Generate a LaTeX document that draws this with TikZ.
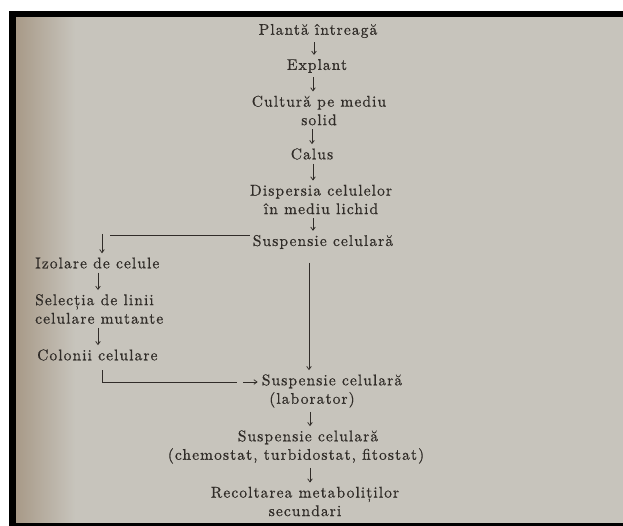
\documentclass[tikz,border=0pt]{standalone}
\usepackage{fontspec}
\newfontfamily\lsf{lmroman10-regular.otf}[LetterSpace=7,FakeBold=0.6]
\usetikzlibrary{arrows.meta}
\definecolor{ink}{RGB}{48,44,40}
\definecolor{paperL}{RGB}{168,154,136}
\definecolor{paperM}{RGB}{199,196,188}
\tikzset{
  lbl/.style={font=\lsf\fontsize{15.5}{18.5}\selectfont, text=ink, inner sep=3pt, align=center},
  lbll/.style={lbl, align=left, anchor=west},
  conn/.style={draw=ink, line width=0.75pt},
  arr/.style={conn, -{Straight Barb[length=3.2pt,width=4.6pt]}, shorten <=1pt, shorten >=1pt},
}
\begin{document}
\begin{tikzpicture}[x=1pt,y=-1pt]
\useasboundingbox (0,0) rectangle (623,526);
% page photo background
\fill[white] (0,0) rectangle (623,526);
\fill[paperM] (16,17) rectangle (623,523);
\shade[left color=paperL, right color=paperM] (16,17) rectangle (75,523);
\fill[black] (9,11) rectangle (623,17);
\fill[black] (9,11) rectangle (16,526);
\fill[black] (9,523) rectangle (623,526);

% main column
\node[lbl] (p1) at (318,31) {Plantă întreagă};
\node[lbl] (p2) at (317,66) {Explant};
\node[lbl] (p3) at (319,110.5) {Cultură pe mediu\\solid};
\node[lbl] (p4) at (312,154) {Calus};
\node[lbl] (p5) at (321,199.5) {Dispersia celulelor\\în mediu lichid};
\node[lbl] (p6) at (323,242) {Suspensie celulară};
\node[lbl] (p7) at (332,391) {Suspensie celulară\\(laborator)\hspace*{40pt}};
\node[lbl] (p8) at (296,447) {\hspace*{24pt}Suspensie celulară\\(chemostat, turbidostat, fitostat)};
\node[lbl] (p9) at (305,501.5) {Recoltarea metaboliților\\secundari};

% left branch
\node[lbll] (l1) at (32,263) {Izolare de celule};
\node[lbll] (l2) at (32,309) {Selecția de linii\\celulare mutante};
\node[lbll] (l3) at (34,355) {Colonii celulare};

% x positions of the arrows
\coordinate (a1) at (314,0);
\coordinate (a2) at (313,0);
\coordinate (a3) at (312,0);
\coordinate (a4) at (313,0);
\coordinate (a5) at (313,0);
\coordinate (a7) at (310,0);
\coordinate (a8) at (310,0);
\coordinate (la) at (98,0);

\draw[arr] (p1.south -| a1) -- (p2.north -| a1);
\draw[arr] (p2.south -| a2) -- (p3.north -| a2);
\draw[arr] (p3.south -| a3) -- (p4.north -| a3);
\draw[arr] (p4.south -| a4) -- (p5.north -| a4);
\draw[arr] (p5.south -| a5) -- (p6.north -| a5);
\draw[arr] (p7.south -| a7) -- (p8.north -| a7);
\draw[arr] (p8.south -| a8) -- (p9.north -| a8);

% branch to the left
\coordinate (b1) at (110,235);
\coordinate (b2) at (102,233);
\draw[conn] (b1 -| p6.west) -- (b1);
\draw[arr] (b2) -- (b2 |- l1.north);
\draw[arr] (l1.south -| la) -- (l2.north -| la);
\draw[arr] (l2.south -| la) -- (l3.north -| la);

% long line down to the laboratory suspension
\coordinate (v1) at (309,262);
\draw[arr] (v1) -- (v1 |- p7.north);

% return from the colonies
\coordinate (c1) at (102,370);
\coordinate (c2) at (102,382);
\coordinate (c3) at (237,382);
\coordinate (c4) at (242,382);
\draw[conn] (c1) -- (c2) -- (c3);
\draw[arr] (c4) -- (c4 -| p7.west);
\end{tikzpicture}
\end{document}
